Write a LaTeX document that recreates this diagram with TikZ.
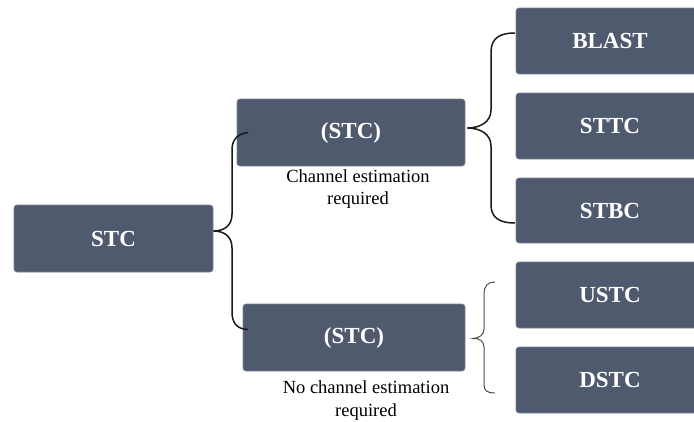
\documentclass[tikz,border=0pt]{standalone}
\usepackage{fontspec}
\setmainfont{LiberationSerif}[Extension=.ttf, UprightFont=*-Regular, BoldFont=*-Bold, ItalicFont=*-Italic, BoldItalicFont=*-BoldItalic]
\definecolor{boxfill}{RGB}{79,90,110}
\definecolor{boxedge}{RGB}{120,130,146}
\begin{document}
\begin{tikzpicture}[x=1pt,y=-1pt,
  box/.style={fill=boxfill, draw=boxedge, line width=0.6pt, rounded corners=3pt,
    text=white, font=\fontsize{23}{27}\selectfont\bfseries, inner sep=0pt},
  captext/.style={align=center, font=\fontsize{18.5}{22.5}\selectfont, inner sep=0pt, text=black},
  brace/.style={draw=black!90, line width=1.5pt, line cap=round},
  thinbrace/.style={draw=black!70, line width=1pt, line cap=round}]
\clip (0,0) rectangle (694,421);
\fill[white] (0,0) rectangle (694,421);
% boxes
\node[box, minimum width=199pt, minimum height=67pt] (stc) at (113.5,238.5) {STC};
\node[box, minimum width=228pt, minimum height=67pt] (up) at (351,132.5) {(STC)};
\node[box, minimum width=222pt, minimum height=67pt] (low) at (354,337.5) {(STC)};
\node[box, minimum width=188pt, minimum height=66pt] (blast) at (610,41) {BLAST};
\node[box, minimum width=188pt, minimum height=66pt] (sttc) at (610,126) {STTC};
\node[box, minimum width=188pt, minimum height=65pt] (stbc) at (610,210.5) {STBC};
\node[box, minimum width=188pt, minimum height=66pt] (ustc) at (610,295) {USTC};
\node[box, minimum width=188pt, minimum height=66pt] (dstc) at (610,380) {DSTC};
% captions
\node[captext] (cap1) at (358,189) {Channel estimation\\required};
\node[captext] (cap2) at (366,400.5) {No channel estimation\\required};
% left brace
\draw[brace] ([xshift=11pt]up.west) .. controls (237,134) and (232,140) .. (232,150)
  -- (232,214) .. controls (232,225) and (225,231) .. ([yshift=7.5pt]stc.east)
  .. controls (225,231) and (232,237) .. (232,248)
  -- (232,312) .. controls (232,323) and (237,329) .. ([xshift=5pt,yshift=8pt]low.west);
% upper right brace
\draw[brace] ([xshift=-1pt,yshift=8pt]blast.west) .. controls (500,33) and (491,38) .. (491,52)
  -- (491,110) .. controls (491,122) and (480,128) .. ([xshift=2pt,yshift=4.5pt]up.east)
  .. controls (480,128) and (491,134) .. (491,146)
  -- (491,205) .. controls (491,218) and (500,223) .. ([xshift=-1pt,yshift=-12.5pt]stbc.west);
% lower right brace
\draw[thinbrace] ([xshift=-21pt,yshift=13pt]ustc.west) .. controls (488,282) and (484,286) .. (484,294)
  -- (484,329) .. controls (484,335) and (479,338) .. ([xshift=8pt,yshift=-1pt]low.east)
  .. controls (479,338) and (484,341) .. (484,347)
  -- (484,385) .. controls (484,391) and (488,393) .. ([xshift=-21pt,yshift=-13pt]dstc.west);
\end{tikzpicture}
\end{document}
